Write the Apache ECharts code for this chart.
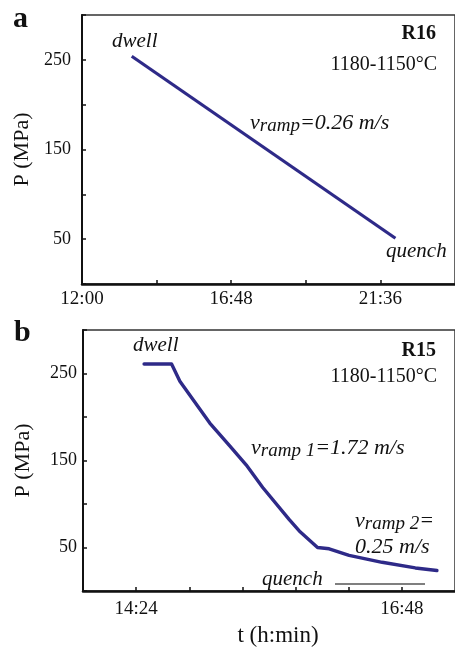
<!DOCTYPE html>
<html>
<head>
<meta charset="utf-8">
<script src="https://cdn.jsdelivr.net/npm/echarts@6/dist/echarts.min.js"></script>
<style>html,body{margin:0;padding:0;background:#fff}#c{width:455px;height:648px}</style>
</head>
<body>
<div id="c"></div>
<script>
// ---- data ----
const aTimesMin = [816, 1325];            // minutes since midnight (13:36 -> 22:05)
const aPressure = [254, 51];              // MPa
const bTimesMin = [868.3, 883.2, 887.7, 903.9, 914.6, 923.6, 932.6, 947.0, 952.4, 962.3, 968.6, 979.4, 997.3, 1015.3, 1027.0];
const bPressure = [261, 261, 241, 193, 167, 145, 119, 82, 69, 50, 48.5, 41, 33, 26.5, 23.5];
const aTickLabels = ['12:00', '16:48', '21:36'];
const bTickLabels = ['14:24', '16:48'];
const yTickLabels = [50, 150, 250];

const SERIF = '"Liberation Serif", "DejaVu Serif", serif';
const LINE = '#2e2a88';
const INK = '#111';

function hhmm(sec) {
  const m = Math.round(sec / 60);
  const h = Math.floor(m / 60), mm = m % 60;
  return h + ':' + (mm < 10 ? '0' : '') + mm;
}
function toPairs(ts, ps) { return ts.map((t, i) => [t * 60, ps[i]]); }

const chart = echarts.init(document.getElementById('c'), null, {renderer: 'canvas'});

function yAxis(gridIndex, margin) {
  return {
    gridIndex, type: 'value', min: 0, max: 300, interval: 50,
    name: 'P (MPa)', nameLocation: 'middle', nameGap: 49,
    nameTextStyle: {fontFamily: SERIF, fontSize: 22, color: INK},
    axisLine: {show: true, lineStyle: {color: INK, width: 2}},
    axisTick: {show: true, inside: true, length: 4, lineStyle: {color: INK, width: 1.5}},
    splitLine: {show: false},
    axisLabel: {
      margin, fontFamily: SERIF, fontSize: 18, color: INK,
      formatter: v => yTickLabels.indexOf(v) >= 0 ? String(v) : ''
    }
  };
}

const rich = {
  v: {font: 'italic 22px ' + SERIF, fill: INK},
  s: {font: 'italic 19px ' + SERIF, fill: INK, padding: [4, 0, 0, 0]}
};

const option = {
  animation: false,
  backgroundColor: '#fff',
  grid: [
    {left: 82, top: 15, right: -2, bottom: 364, show: true, borderColor: '#333', borderWidth: 1.5},
    {left: 83, top: 330, right: -2, bottom: 48, show: true, borderColor: '#333', borderWidth: 1.5}
  ],
  xAxis: [
    {
      gridIndex: 0, type: 'value', min: 43200, max: 86400, interval: 8640,
      axisLine: {show: true, lineStyle: {color: INK, width: 2.5}},
      axisTick: {show: true, inside: true, length: 4, lineStyle: {color: INK, width: 1.5}},
      splitLine: {show: false},
      axisLabel: {
        margin: 6, fontFamily: SERIF, fontSize: 19, color: INK, showMaxLabel: false,
        formatter: v => aTickLabels.indexOf(hhmm(v)) >= 0 ? hhmm(v) : ''
      }
    },
    {
      gridIndex: 1, type: 'value', min: 50112, max: 62208, interval: 1728,
      name: 't (h:min)', nameLocation: 'middle', nameGap: 33,
      nameTextStyle: {fontFamily: SERIF, fontSize: 23, color: INK, padding: [0, 0, 0, 18]},
      axisLine: {show: true, lineStyle: {color: INK, width: 2.5}},
      axisTick: {show: true, inside: true, length: 4, lineStyle: {color: INK, width: 1.5}},
      splitLine: {show: false},
      axisLabel: {
        margin: 9, fontFamily: SERIF, fontSize: 19, color: INK, showMaxLabel: false,
        formatter: v => bTickLabels.indexOf(hhmm(v)) >= 0 ? hhmm(v) : ''
      }
    }
  ],
  yAxis: [yAxis(0, 11), yAxis(1, 6)],
  series: [
    {
      type: 'line', xAxisIndex: 0, yAxisIndex: 0, data: toPairs(aTimesMin, aPressure),
      symbol: 'circle', symbolSize: [0, 5], showSymbol: true,
      itemStyle: {color: LINE}, lineStyle: {color: LINE, width: 3.2}
    },
    {
      type: 'line', xAxisIndex: 1, yAxisIndex: 1, data: toPairs(bTimesMin, bPressure),
      showSymbol: false, symbol: 'none', smooth: false,
      lineStyle: {color: LINE, width: 3.4, cap: 'round', join: 'round'}
    }
  ],
  graphic: [
    {type: 'text', left: 13, top: 4, style: {text: 'a', font: 'bold 30px ' + SERIF, fill: INK}},
    {type: 'text', left: 14, top: 318, style: {text: 'b', font: 'bold 30px ' + SERIF, fill: INK}},
    // panel a annotations
    {type: 'text', x: 112, y: 52, style: {text: 'dwell', font: 'italic 21px ' + SERIF, fill: INK, textVerticalAlign: 'bottom'}},
    {type: 'text', x: 436, y: 44, style: {text: 'R16', font: 'bold 20px ' + SERIF, fill: INK, textAlign: 'right', textVerticalAlign: 'bottom'}},
    {type: 'text', x: 437, y: 75, style: {text: '1180-1150°C', font: '20px ' + SERIF, fill: INK, textAlign: 'right', textVerticalAlign: 'bottom'}},
    {type: 'text', x: 250, y: 135, style: {text: '{v|v}{s|ramp}{v|=0.26 m/s}', textVerticalAlign: 'bottom', fill: INK, rich}},
    {type: 'text', x: 386, y: 262, style: {text: 'quench', font: 'italic 21px ' + SERIF, fill: INK, textVerticalAlign: 'bottom'}},
    // panel b annotations
    {type: 'text', x: 133, y: 356, style: {text: 'dwell', font: 'italic 21px ' + SERIF, fill: INK, textVerticalAlign: 'bottom'}},
    {type: 'text', x: 436, y: 361, style: {text: 'R15', font: 'bold 20px ' + SERIF, fill: INK, textAlign: 'right', textVerticalAlign: 'bottom'}},
    {type: 'text', x: 437, y: 387, style: {text: '1180-1150°C', font: '20px ' + SERIF, fill: INK, textAlign: 'right', textVerticalAlign: 'bottom'}},
    {type: 'text', x: 251, y: 460, style: {text: '{v|v}{s|ramp 1}{v|=1.72 m/s}', textVerticalAlign: 'bottom', fill: INK, rich}},
    {type: 'text', x: 355, y: 533, style: {text: '{v|v}{s|ramp 2}{v|=}', textVerticalAlign: 'bottom', fill: INK, rich}},
    {type: 'text', x: 355, y: 558, style: {text: '0.25 m/s', font: 'italic 22px ' + SERIF, fill: INK, textVerticalAlign: 'bottom'}},
    {type: 'text', x: 262, y: 590, style: {text: 'quench', font: 'italic 21px ' + SERIF, fill: INK, textVerticalAlign: 'bottom'}},
    {type: 'line', shape: {x1: 335, y1: 584, x2: 425, y2: 584}, style: {stroke: '#555', lineWidth: 1.3}}
  ]
};
chart.setOption(option);
</script>
</body>
</html>
